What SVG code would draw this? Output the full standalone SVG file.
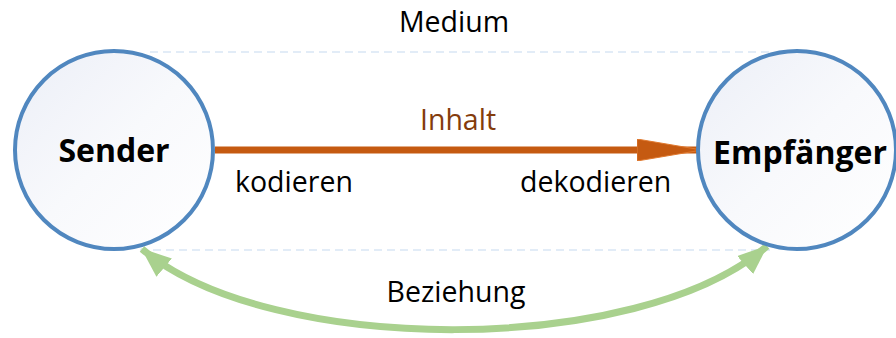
<svg xmlns="http://www.w3.org/2000/svg" width="896" height="338" viewBox="0 0 896 338">
<style>
.t{font-family:"Open Sans","Noto Sans","Liberation Sans",sans-serif;fill:#000;font-size:28.5px}
.n{font-family:"Open Sans","Noto Sans","Liberation Sans",sans-serif;font-weight:bold;fill:#000;font-size:32px}
.node{fill:url(#g);stroke:#5087bf;stroke-width:4}
.dash{stroke:#c6d9f0;stroke-width:1.2;stroke-dasharray:8 5;fill:none}
</style>
<defs>
<linearGradient id="g" x1="0" y1="0" x2="1" y2="1">
<stop offset="0" stop-color="#eceff7"/>
<stop offset="0.5" stop-color="#f8f9fc"/>
<stop offset="1" stop-color="#ffffff"/>
</linearGradient>
<marker id="ga" viewBox="0 0 30 24" refX="29" refY="12" markerWidth="30" markerHeight="24" markerUnits="userSpaceOnUse" orient="auto-start-reverse">
<path d="M0,0 L30,12 L0,24 Z" fill="#a9d18e"/>
</marker>
<marker id="oa" viewBox="0 0 66 22" refX="65" refY="11" markerWidth="66" markerHeight="22" markerUnits="userSpaceOnUse" orient="auto">
<path d="M0,0 L65,11 L0,22 Z" fill="#c55a11" stroke="#e07a30" stroke-width="1"/>
</marker>
</defs>
<g id="connectors">
<line class="dash" x1="150" y1="52" x2="770" y2="52"/>
<line class="dash" x1="140" y1="250" x2="770" y2="250"/>
<line x1="215" y1="150" x2="702" y2="150" stroke="#c55a11" stroke-width="7" marker-end="url(#oa)"/>
<path d="M142,249 C270,357 640,357 767,246" fill="none" stroke="#a9d18e" stroke-width="7" marker-start="url(#ga)" marker-end="url(#ga)"/>
</g>
<g id="sender">
<circle class="node" cx="114" cy="150" r="99"/>
<text class="n" x="114" y="162" text-anchor="middle">Sender</text>
</g>
<g id="empfaenger">
<circle class="node" cx="797" cy="150" r="99"/>
<text class="n" x="800" y="164" text-anchor="middle">Empfänger</text>
</g>
<g id="labels">
<text class="t" x="454" y="32" text-anchor="middle">Medium</text>
<text class="t" x="458" y="130" text-anchor="middle" style="fill:#843c0c">Inhalt</text>
<text class="t" x="235" y="192">kodieren</text>
<text class="t" x="520" y="192">dekodieren</text>
<text class="t" x="456" y="302" text-anchor="middle">Beziehung</text>
</g>
</svg>
